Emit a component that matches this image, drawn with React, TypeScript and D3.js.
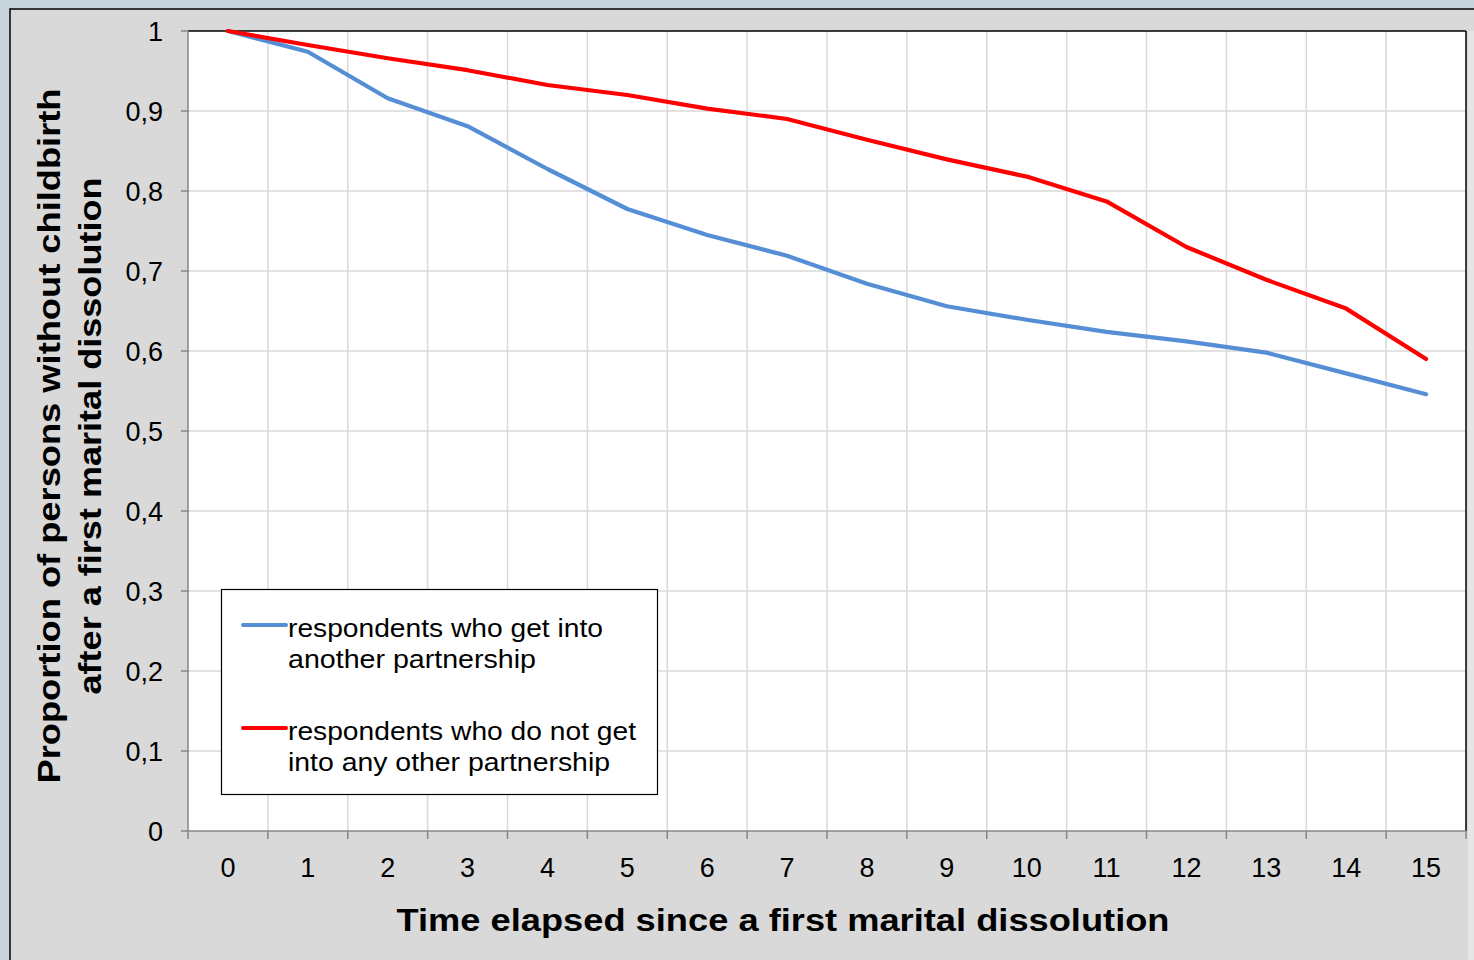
import React from "react";
import * as d3 from "d3";

const categories = ["0","1","2","3","4","5","6","7","8","9","10","11","12","13","14","15"];
const blueValues = [1.0,0.974,0.916,0.881,0.8275,0.7775,0.745,0.719,0.684,0.656,0.639,0.624,0.612,0.598,0.572,0.546];
const redValues = [1.0,0.9825,0.966,0.951,0.9325,0.92,0.903,0.89,0.864,0.8395,0.818,0.787,0.730,0.689,0.653,0.590];
const yTicks = [0,0.1,0.2,0.3,0.4,0.5,0.6,0.7,0.8,0.9,1];
const seriesNames = [
  ["respondents who get into", "another partnership"],
  ["respondents who do not get", "into any other partnership"],
];
const seriesColors = ["#558ed5", "#ff0000"];
const xTitle = "Time elapsed since a first marital dissolution";
const yTitle = ["Proportion of persons without childbirth", "after a first marital dissolution"];

const W = 1474, H = 960;
const L = 188, R = 1466, T = 31, B = 831;
const FONT = "'Liberation Sans', Arial, sans-serif";

export default function App() {
  const x = d3.scaleBand<string>().domain(categories).range([L, R]).padding(0);
  const y = d3.scaleLinear().domain([0, 1]).range([B, T]);
  const cx = (c: string) => (x(c) as number) + x.bandwidth() / 2;
  const line = d3.line<number>().x((_, i) => cx(categories[i])).y((v) => y(v));
  const fmt = (v: number) => (v === 0 || v === 1 ? String(v) : d3.format(".1f")(v).replace(".", ","));
  const boundaries = categories.map((c) => x(c) as number).concat([R]);

  return (
    <svg width={W} height={H} style={{ position: "absolute", left: 0, top: 0 }} fontFamily={FONT}>
      <rect x={0} y={0} width={W} height={H} fill="#c8d4dc" />
      <rect x={10} y={9} width={W} height={H} fill="#d9d9d9" stroke="#000" strokeWidth={1.5} />
      <rect x={1468} y={31} width={6} height={H} fill="#e6e6e6" />
      {/* plot area */}
      <rect x={L} y={T} width={R - L} height={B - T} fill="#fff" />
      {/* gridlines */}
      {yTicks.slice(1, -1).map((t) => (
        <line key={"gy" + t} x1={L} x2={R} y1={y(t)} y2={y(t)} stroke="#d9d9d9" strokeWidth={1.5} />
      ))}
      {boundaries.slice(1, -1).map((b, i) => (
        <line key={"gx" + i} x1={b} x2={b} y1={T} y2={B} stroke="#d9d9d9" strokeWidth={1.5} />
      ))}
      {/* plot border */}
      <line x1={L} x2={R} y1={T} y2={T} stroke="#000" strokeWidth={1.5} />
      <line x1={R} x2={R} y1={T} y2={B} stroke="#000" strokeWidth={1.5} />
      {/* axes */}
      <line x1={L} x2={L} y1={T} y2={B} stroke="#868686" strokeWidth={1.5} />
      <line x1={L} x2={R} y1={B} y2={B} stroke="#868686" strokeWidth={1.5} />
      {yTicks.map((t) => (
        <g key={"ty" + t}>
          <line x1={L - 7} x2={L} y1={y(t)} y2={y(t)} stroke="#868686" strokeWidth={1.5} />
          <text x={163} y={y(t)} dy="0.36em" textAnchor="end" fontSize={27} fill="#000">{fmt(t)}</text>
        </g>
      ))}
      {boundaries.map((b, i) => (
        <line key={"tx" + i} x1={b} x2={b} y1={B} y2={B + 8} stroke="#868686" strokeWidth={1.5} />
      ))}
      {categories.map((c) => (
        <text key={"lx" + c} x={cx(c)} y={877} textAnchor="middle" fontSize={27} fill="#000">{c}</text>
      ))}
      {/* series */}
      {[blueValues, redValues].map((vals, i) => (
        <path key={"s" + i} d={line(vals) as string} fill="none" stroke={seriesColors[i]} strokeWidth={4.2} strokeLinejoin="round" strokeLinecap="round" />
      ))}
      {/* titles */}
      <text x={783} y={931} textAnchor="middle" fontSize={32} fontWeight="bold" fill="#000" textLength={773} lengthAdjust="spacingAndGlyphs">{xTitle}</text>
      <g transform="translate(0,436) rotate(-90)">
        <text x={0} y={60} textAnchor="middle" fontSize={32} fontWeight="bold" fill="#000" textLength={695} lengthAdjust="spacingAndGlyphs">{yTitle[0]}</text>
        <text x={0} y={101} textAnchor="middle" fontSize={32} fontWeight="bold" fill="#000" textLength={517} lengthAdjust="spacingAndGlyphs">{yTitle[1]}</text>
      </g>
      {/* legend */}
      <rect x={221.5} y={589.5} width={436} height={205} fill="#fff" stroke="#000" strokeWidth={1.2} />
      {seriesNames.map((lines, i) => {
        const top = 625 + i * 103;
        return (
          <g key={"lg" + i}>
            <line x1={243} x2={286} y1={top} y2={top} stroke={seriesColors[i]} strokeWidth={4} strokeLinecap="round" />
            <text x={288} y={top + 12} fontSize={26} fill="#000" textLength={i === 0 ? 315 : 348} lengthAdjust="spacingAndGlyphs">{lines[0]}</text>
            <text x={288} y={top + 43} fontSize={26} fill="#000" textLength={i === 0 ? 248 : 322} lengthAdjust="spacingAndGlyphs">{lines[1]}</text>
          </g>
        );
      })}
    </svg>
  );
}
